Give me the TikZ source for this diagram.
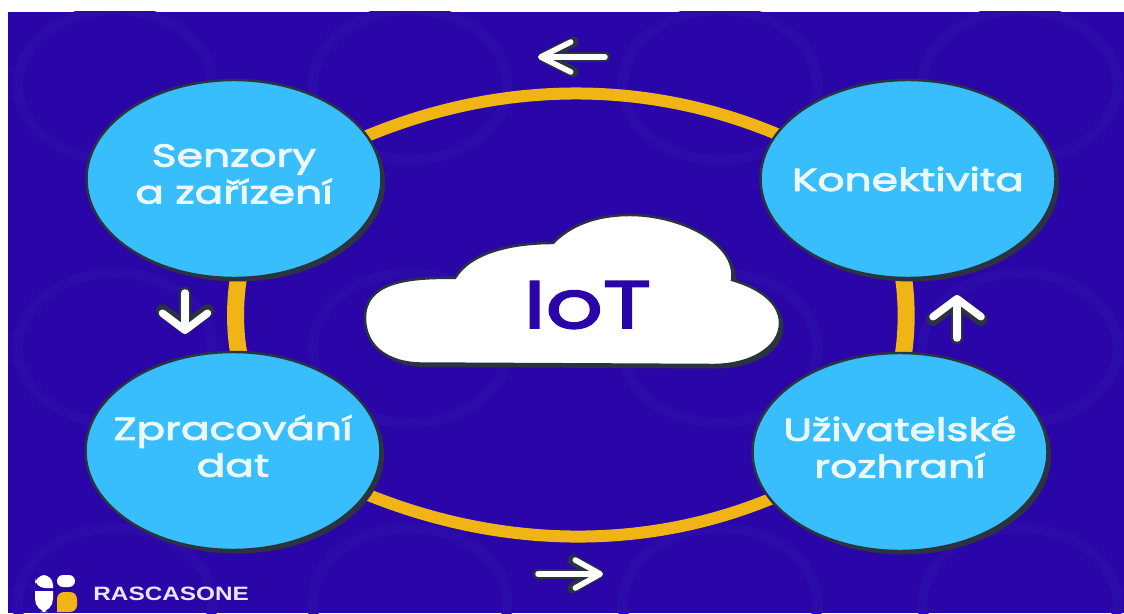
\documentclass[tikz,border=0pt]{standalone}
\usepackage{fontspec}
\usetikzlibrary{shapes.geometric, arrows.meta, shadows}
\newfontfamily\labelfont[FakeStretch=1.34, FakeBold=3]{Poppins}
\newfontfamily\brandfont[FakeStretch=1.26]{Liberation Sans}

\definecolor{indigobg}{HTML}{2A06A8}
\definecolor{indigoring}{HTML}{2D0AAA}
\definecolor{skyfill}{HTML}{38BDFD}
\definecolor{edgedark}{HTML}{2B3240}
\definecolor{ringgold}{HTML}{F0B414}
\definecolor{labelwhite}{HTML}{EAF8FF}
\definecolor{brandwhite}{HTML}{E8E6F6}

\pgfdeclarelayer{backdrop}
\pgfsetlayers{backdrop,main}

\tikzset{
  topic/.style={draw=edgedark, line width=1.4pt, fill=skyfill, ellipse, inner sep=0pt,
    minimum width=5.9cm, minimum height=3.96cm,
    drop shadow={shadow xshift=0.07cm, shadow yshift=-0.07cm, fill=edgedark, opacity=1}},
  topiclabel/.style={align=center, inner sep=0pt, text=labelwhite,
    font=\labelfont\fontsize{18}{21}\selectfont},
  ringside/.style={draw=ringgold, line width=0.34cm, shorten <=-0.2cm, shorten >=-0.2cm},
  ringflat/.style={draw=ringgold, line width=0.24cm, shorten <=-0.2cm, shorten >=-0.2cm},
  flow/.style n args={3}{draw=white, line width=#1, line cap=round,
    -{Straight Barb[round, length=#2, width=#3]},
    preaction={draw=edgedark, line width=#1+3pt, line cap=round,
      -{Straight Barb[round, length=#2, width=#3]}}},
}

\begin{document}
\begin{tikzpicture}

\useasboundingbox (0, 0) rectangle (22.48, 12.26);

\node (senzory) at (4.68, 8.68)  [topic, label={[topiclabel, yshift=0.1cm]center:{Senzory\\a zařízení}}] {};
\node (konekt)  at (18.16, 8.68) [topic, label={[topiclabel]center:{Konektivita}}] {};
\node (zprac)   at (4.66, 3.24)  [topic, label={[topiclabel, yshift=0.1cm]center:{Zpracování\\dat}}] {};
\node (uziv)    at (18.0, 3.22)  [topic, label={[topiclabel, yshift=0.1cm]center:{Uživatelské\\rozhraní}}] {};

\begin{pgfonlayer}{backdrop}
\fill[white] (0, 0) rectangle (22.48, 12.26);
\fill[indigobg] (0.16, 0) rectangle (22.48, 12.02);

% faint rings of the backdrop
\begin{scope}
\clip (0.16, 0) rectangle (22.48, 12.02);
\foreach \cx in {2.3, 8.2, 14.4, 20.4} {
  \foreach \cy in {10.56, 5.3, 0.2} {
    \draw[indigoring, line width=0.2cm] (\cx, \cy) ellipse (1.95 and 1.5);
  }
}
\end{scope}

\draw[ringflat] (senzory.18.6) .. controls (10.0, 10.69) and (13.0, 10.69) .. (konekt.161);
\draw[ringflat] (zprac.-18.6) .. controls (10.0, 1.24) and (13.0, 1.24) .. (uziv.-160);
\path (senzory.-90) ++(0.08, 0) coordinate (leftup);
\path (zprac.90) ++(0.10, 0) coordinate (leftdown);
\draw[ringside] (leftup) .. controls (4.68, 6.3) and (4.68, 5.6) .. (leftdown);
\path (uziv.90) ++(0.08, 0) coordinate (rightdown);
\path (konekt.-90) ++(-0.08, 0) coordinate (rightup);
\draw[ringside] (rightdown) .. controls (18.15, 5.6) and (18.15, 6.3) .. (rightup);
\end{pgfonlayer}

% cloud
\path[fill=white, draw=edgedark, line width=1.4pt,
  drop shadow={shadow xshift=0.07cm, shadow yshift=-0.07cm, fill=edgedark, opacity=1}]
  (8.4, 4.99) .. controls (7.8, 5.0) and (7.3, 5.3) .. (7.3, 5.9)
  .. controls (7.3, 6.6) and (8.1, 6.72) .. (9.1, 6.7)
  .. controls (9.4, 7.2) and (10.2, 7.4) .. (11.06, 7.4)
  .. controls (11.5, 7.85) and (12.1, 7.96) .. (12.6, 7.96)
  .. controls (13.6, 7.96) and (14.75, 7.4) .. (14.64, 6.66)
  .. controls (15.2, 6.5) and (15.6, 6.2) .. (15.6, 5.8)
  .. controls (15.6, 5.3) and (15.0, 4.96) .. (14.26, 4.96)
  -- cycle;
\node (iot) at (11.75, 6.16) [text=indigobg, font=\labelfont\fontsize{38}{42}\selectfont, inner sep=0pt] {IoT};

% direction arrows
\coordinate (westtail) at (12.1, 11.12);
\coordinate (westtip) at (10.76, 11.12);
\coordinate (easttail) at (10.76, 0.78);
\coordinate (easttip) at (12.06, 0.78);
\coordinate (southtail) at (3.7, 6.4);
\coordinate (southtip) at (3.7, 5.58);
\coordinate (northtail) at (19.14, 5.5);
\coordinate (northtip) at (19.14, 6.36);
\draw[flow={0.11cm}{0.6cm}{0.6cm}] (westtail) -- (westtip);
\draw[flow={0.11cm}{0.5cm}{0.56cm}] (easttail) -- (easttip);
\draw[flow={0.15cm}{0.34cm}{0.9cm}] (southtail) -- (southtip);
\draw[flow={0.15cm}{0.36cm}{0.96cm}] (northtail) -- (northtip);

% brand mark
\fill[white] (1.06, 0.50) [rounded corners=0.2cm] -- (0.70, 0.50) -- (0.70, 0.76) -- (1.06, 0.76) [sharp corners] -- cycle;
\fill[white, rounded corners=0.12cm] (1.14, 0.52) -- (1.14, 0.76) -- (1.50, 0.76) -- (1.50, 0.52) -- cycle;
\fill[white] (1.06, 0.44) -- (0.70, 0.44) [rounded corners=0.26cm] -- (0.70, 0.02) -- (1.06, 0.02) [sharp corners] -- cycle;
\fill[ringgold] (1.54, 0.02) -- (1.14, 0.02) [rounded corners=0.14cm] -- (1.14, 0.42) -- (1.54, 0.42) -- cycle;
\node (brand) at (1.86, 0.39) [anchor=west, inner sep=0pt, text=brandwhite, font=\brandfont\bfseries\fontsize{11}{11}\selectfont] {RASCASONE};

\end{tikzpicture}
\end{document}
